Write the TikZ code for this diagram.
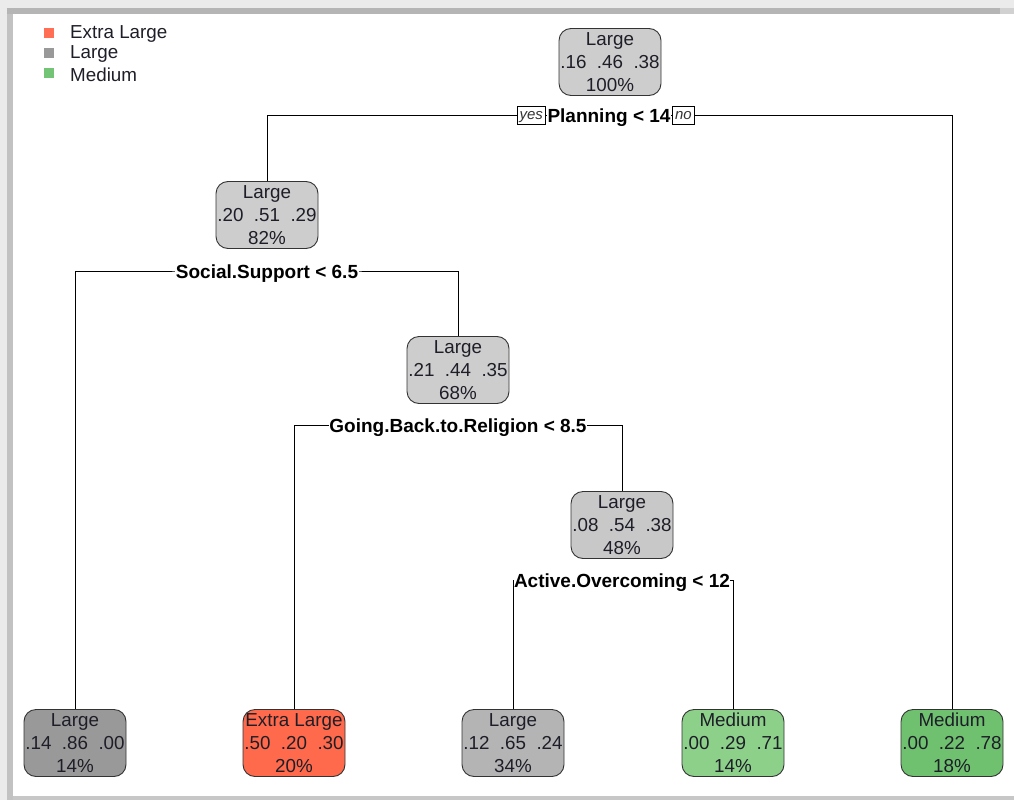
\documentclass[tikz,border=0pt]{standalone}
\usepackage{fontspec}
\setmainfont{Liberation Sans}
\definecolor{g1}{HTML}{CDCDCD}
\definecolor{g2}{HTML}{C8C8C8}
\definecolor{g3}{HTML}{999999}
\definecolor{g4}{HTML}{B4B4B4}
\definecolor{xl}{HTML}{FF6A4C}
\definecolor{md1}{HTML}{8DD08A}
\definecolor{md2}{HTML}{6FC06F}
\definecolor{lgred}{HTML}{FF6E55}
\definecolor{lggray}{HTML}{999999}
\definecolor{lggreen}{HTML}{74C476}
\definecolor{txt}{HTML}{1E1E28}
\tikzset{
  tree/.style={draw=black!80, line width=0.9pt, rounded corners=12pt, minimum width=102pt, minimum height=67pt,
    inner xsep=0pt, inner ysep=0pt, align=center, text=txt, font=\fontsize{18.8}{23}\selectfont},
  splitlab/.style={fill=white, inner xsep=0.5pt, inner ysep=0pt, anchor=base, font=\fontsize{19}{22}\selectfont\bfseries, text=black},
  yn/.style={draw=black, fill=white, line width=0.7pt, inner xsep=2.5pt, inner ysep=0pt, minimum height=18pt,
    text height=8pt, text depth=0pt, font=\fontsize{15}{16}\selectfont\itshape, text=black!80},
  conn/.style={draw=black, line width=1pt},
  legsq/.style={minimum size=10pt, inner sep=0pt},
  legtxt/.style={anchor=west, inner sep=0pt, text=txt, font=\fontsize{18.8}{22}\selectfont}
}
\begin{document}
\begin{tikzpicture}[x=1pt,y=-1pt]
\useasboundingbox (0,0) rectangle (1014,800);
% frame / shadow
\fill[black!8] (0,0) rectangle (1014,8);
\fill[black!8] (0,0) rectangle (7,800);
\fill[black!29] (7,8) rectangle (1000,14);
\fill[black!18] (1000,8) rectangle (1014,14);
\fill[black!24] (7,14) rectangle (13,800);
\fill[black!22] (13,796) rectangle (1014,800);

% legend
\node[legsq, fill=lgred] (lr) at (49,33) {};
\node[legsq, fill=lggray] (lg) at (49,53) {};
\node[legsq, fill=lggreen] (lm) at (49,73) {};
\node[legtxt] (tr) at (70,34) {Extra Large};
\node[legtxt] (tg) at (70,54) {Large};
\node[legtxt] (tm) at (70,75) {Medium};

% nodes
\node[tree, fill=g1] (n1) at (610,62) {Large\\.16\ \ .46\ \ .38\\100\%};
\node[tree, fill=g1] (n2) at (267,215) {Large\\.20\ \ .51\ \ .29\\82\%};
\node[tree, fill=g1] (n3) at (458,370) {Large\\.21\ \ .44\ \ .35\\68\%};
\node[tree, fill=g2] (n4) at (622,525) {Large\\.08\ \ .54\ \ .38\\48\%};
\node[tree, fill=g3] (l1) at (75,743) {Large\\.14\ \ .86\ \ .00\\14\%};
\node[tree, fill=xl] (l2) at (294,743) {Extra Large\\.50\ \ .20\ \ .30\\20\%};
\node[tree, fill=g4] (l3) at (513,743) {Large\\.12\ \ .65\ \ .24\\34\%};
\node[tree, fill=md1] (l4) at (733,743) {Medium\\.00\ \ .29\ \ .71\\14\%};
\node[tree, fill=md2] (l5) at (952,743) {Medium\\.00\ \ .22\ \ .78\\18\%};

% split points
\coordinate (c1) at (609,115.5);
\coordinate (c2) at (267,271);
\coordinate (c3) at (458,425);
\coordinate (c4) at (622,580);

% connectors
\draw[conn] (n2.north) |- (c1) -| (l5.north);
\draw[conn] (l1.north) |- (c2) -| (n3.north);
\draw[conn] (l2.north) |- (c3) -| (n4.north);
\draw[conn] (l3.north) |- (c4) -| (l4.north);

% split labels
\node[splitlab] (s1) at ([yshift=-7pt]c1) {Planning < 14};
\node[splitlab] (s2) at ([yshift=-7pt]c2) {Social.Support < 6.5};
\node[splitlab] (s3) at ([yshift=-7pt]c3) {Going.Back.to.Religion < 8.5};
\node[splitlab] (s4) at ([yshift=-7pt]c4) {Active.Overcoming < 12};
\node[yn, anchor=east] (yes) at ([xshift=-1pt]s1.west |- c1) {yes};
\node[yn, anchor=west] (no) at ([xshift=1pt]s1.east |- c1) {no};
\end{tikzpicture}
\end{document}
